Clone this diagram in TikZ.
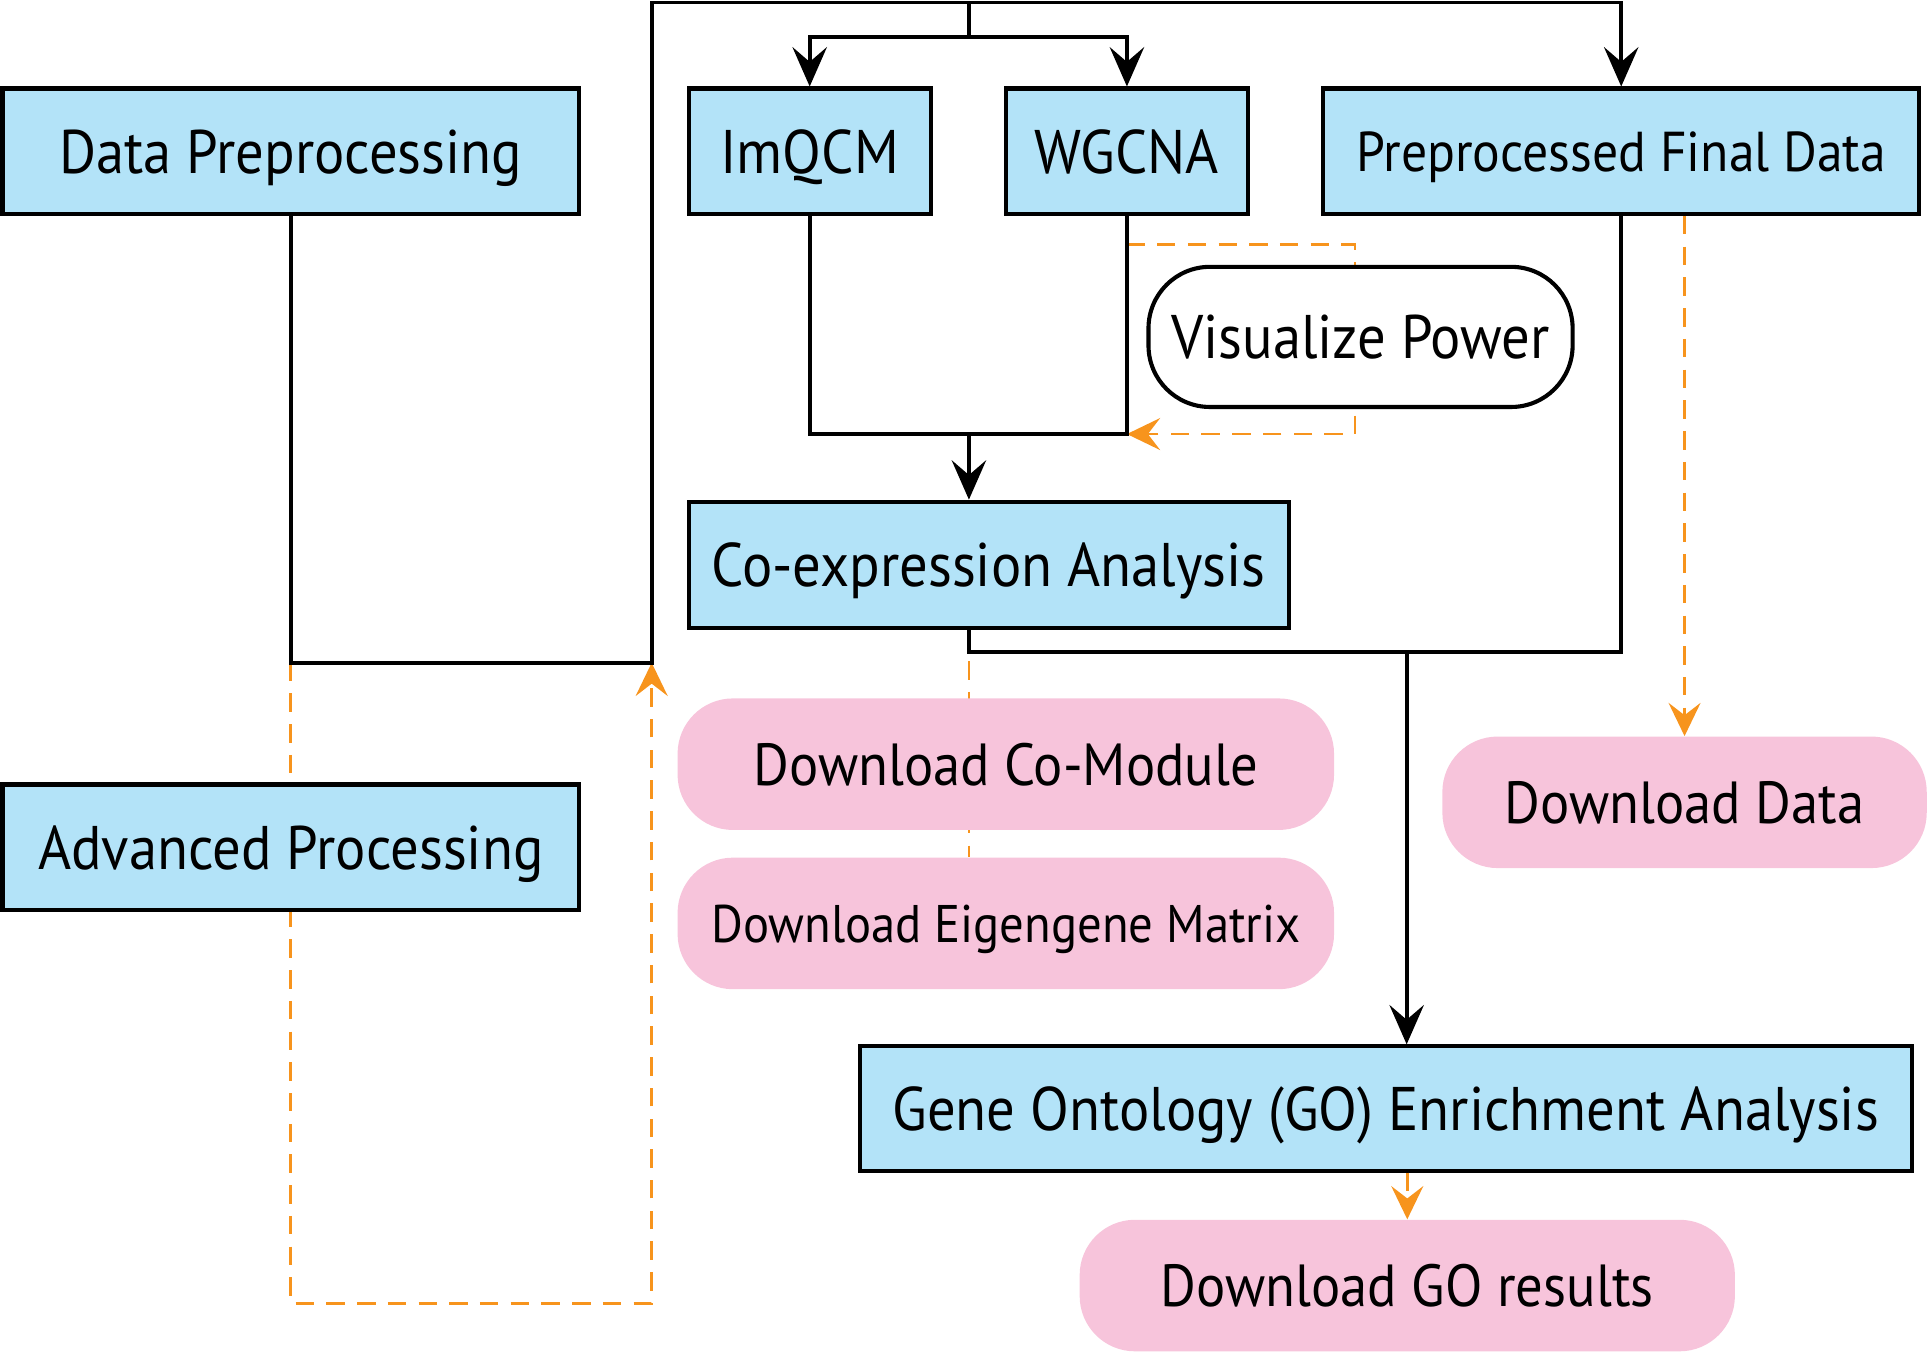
\documentclass[tikz,border=0pt]{standalone}
\usepackage{fontspec}
\setmainfont{PT Sans}[FakeStretch=0.92]
\usetikzlibrary{arrows.meta, positioning, calc, backgrounds}
\definecolor{boxblue}{HTML}{B3E3F8}
\definecolor{dlpink}{HTML}{F7C4DB}
\definecolor{dashorange}{HTML}{F7941D}
\newcommand{\bigtxt}{\fontsize{28.5}{32}\selectfont}
\newcommand{\dltxt}{\fontsize{27.5}{32}\selectfont}
\newcommand{\finaltxt}{\fontsize{26}{30}\selectfont}
\newcommand{\smalltxt}{\fontsize{24.5}{28}\selectfont}

\begin{document}
\begin{tikzpicture}[
    x=0.02cm, y=-0.02cm,
    block/.style={rectangle, draw, line width=1.9pt, fill=boxblue, minimum height=2.04cm, inner sep=0pt, text depth=0pt, font=\bigtxt},
    download/.style={rectangle, rounded corners=0.9cm, fill=dlpink, minimum height=2.14cm, inner sep=0pt, text depth=0pt, font=\dltxt},
    arrow/.style={-{Stealth[length=6.4mm, width=5.6mm, inset=2.4mm]}, line width=1.7pt},
    link/.style={line width=1.7pt},
    darrow/.style={-{Stealth[length=5.4mm, width=5.2mm, inset=2mm]}, draw=dashorange, line width=1.3pt, dash pattern=on 0.3cm off 0.2cm},
    dline/.style={draw=dashorange, line width=1.3pt, dash pattern=on 0.3cm off 0.2cm}
]
    \useasboundingbox (0,0) rectangle (1568,1101);

    % Main blocks
    \node[block, minimum width=9.38cm] (prep) at (236.5,123) {Data Preprocessing};
    \node[block, minimum width=3.94cm] (imqcm) at (658.5,123) {ImQCM};
    \node[block, minimum width=3.94cm] (wgcna) at (916.5,123) {WGCNA};
    \node[block, minimum width=9.7cm, font=\finaltxt] (final) at (1318.5,123) {Preprocessed Final Data};
    \node[rectangle, draw, line width=1.9pt, fill=white, rounded corners=1cm, minimum width=6.9cm, minimum height=2.28cm, text depth=0pt, font=\bigtxt] (power) at (1106.5,274) {Visualize Power};
    \node[block, minimum width=9.76cm, minimum height=2.06cm] (coexp) at (804,459.5) {Co-expression Analysis};
    \node[block, minimum width=9.38cm] (adv) at (236.5,689) {Advanced Processing};
    \node[block, minimum width=17.12cm, minimum height=2.02cm] (go) at (1127,901.5) {Gene Ontology (GO) Enrichment Analysis};

    % Download buttons
    \node[download, minimum width=10.68cm] (comod) at (818,621.5) {Download Co-Module};
    \node[download, minimum width=10.68cm, font=\smalltxt] (eigen) at (818,751) {Download Eigengene Matrix};
    \node[download, minimum width=7.88cm] (dldata) at (1370,652.5) {Download Data};
    \node[download, minimum width=10.66cm] (dlgo) at (1144.5,1045.5) {Download GO results};

    % Junctions
    \coordinate (jl) at (530,539);
    \coordinate (jtop) at (530,2);
    \coordinate (jsplit) at (788,30);
    \coordinate (jmerge) at (788,353);
    \coordinate (jgo) at (1144,530);
    \coordinate (jpw1) at (916,199);
    \coordinate (jpw2) at (1102,353);
    \coordinate (jadv) at (236.5,1060);

    % Arrows
    \draw[arrow] (prep.south) |- (jl) -- (jtop) -| (final.north);
    \draw[link] (jsplit |- jtop) -- (jsplit);
    \draw[arrow] (jsplit) -| (imqcm.north);
    \draw[arrow] (jsplit) -| (wgcna.north);
    \draw[link] (imqcm.south) |- (jmerge) -| (wgcna.south);
    \draw[arrow] (jmerge) -- (jmerge |- coexp.north);
    \draw[link] (final.south) |- (jgo) -| (coexp.south -| jmerge);
    \draw[arrow] (jgo) -- (jgo |- go.north);

    % Download links
    \begin{scope}[on background layer]
        \draw[darrow] (jpw1) -| (jpw2) -- (jpw2 -| wgcna.south);
        \draw[dline] (coexp.south -| jmerge) -- (eigen.north -| jmerge);
        \draw[darrow] (prep.south |- jl) -- (jadv) -| (jl);
    \end{scope}
    \draw[darrow] (final.south -| dldata.north) -- (dldata.north);
    \draw[darrow] (go.south -| dlgo.north) -- (dlgo.north);

\end{tikzpicture}
\end{document}
